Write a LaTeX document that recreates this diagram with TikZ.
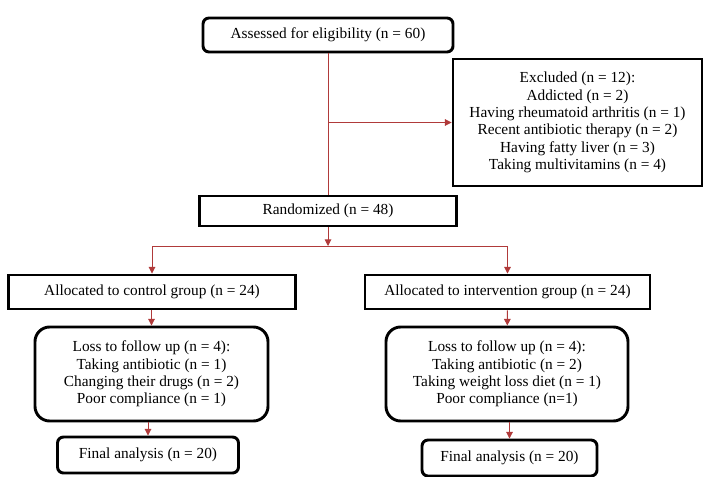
\documentclass[tikz,border=0pt]{standalone}
\usepackage{fontspec}
\setmainfont{Liberation Serif}
\usetikzlibrary{arrows.meta,calc}

\definecolor{linkred}{RGB}{176,58,58}

\begin{document}
\begin{tikzpicture}[x=0.75pt,y=-0.75pt,
	box/.style={draw,line width=2.2pt,align=center,inner sep=0pt,
		font=\fontsize{11.5}{13}\selectfont},
	rbox/.style={box,rounded corners=4.5pt},
	lbox/.style={box,rounded corners=11pt},
	link/.style={draw=linkred,line width=0.7pt},
	arr/.style={link,-{Triangle[width=5pt,length=5pt]}}]
	\useasboundingbox (0,0) rectangle (712,477);
	\node[rbox,minimum width=187.5pt,minimum height=25.5pt] (assess) at (328,35) {Assessed for eligibility (n = 60)};
	\node[box,minimum width=186.75pt,minimum height=95.25pt] (excl) at (577.5,122.5) {Excluded (n = 12):\\Addicted (n = 2)\\Having rheumatoid arthritis (n = 1)\\Recent antibiotic therapy (n = 2)\\Having fatty liver (n = 3)\\Taking multivitamins (n = 4)};
	\node[box,minimum width=192.75pt,minimum height=22.5pt] (rand) at (328,211) {Randomized (n = 48)};
	\node[box,minimum width=215.25pt,minimum height=25.5pt] (ctrl) at (152,292) {Allocated to control group (n = 24)};
	\node[box,minimum width=213.75pt,minimum height=25.5pt] (inter) at (507.5,292) {Allocated to intervention group (n = 24)};
	\node[lbox,minimum width=174.75pt,minimum height=70.5pt] (lossc) at (151.5,374) {Loss to follow up (n = 4):\\Taking antibiotic (n = 1)\\Changing their drugs (n = 2)\\Poor compliance (n = 1)};
	\node[lbox,minimum width=181.5pt,minimum height=70.5pt] (lossi) at (507,374) {Loss to follow up (n = 4):\\Taking antibiotic (n = 2)\\Taking weight loss diet (n = 1)\\Poor compliance (n=1)};
	\node[rbox,minimum width=135.75pt,minimum height=27pt] (finc) at (148,455) {Final analysis (n = 20)};
	\node[rbox,minimum width=131.25pt,minimum height=27pt] (fini) at (509.5,458) {Final analysis (n = 20)};
	% connectors
	\coordinate (excljoin) at (assess.south |- excl.west);
	\coordinate (split) at (328,246);
	\draw[link] (assess) -- (rand);
	\draw[arr] (excljoin) -- (excl);
	\draw[arr] (rand) -- (split);
	\draw[arr] (split) -| (ctrl);
	\draw[arr] (split) -| (inter);
	\draw[arr] (ctrl.south -| lossc.north) -- (lossc);
	\draw[arr] (inter) -- (lossi);
	\draw[arr] (lossc.south -| finc.north) -- (finc);
	\draw[arr] (lossi.south -| fini.north) -- (fini);
\end{tikzpicture}
\end{document}
